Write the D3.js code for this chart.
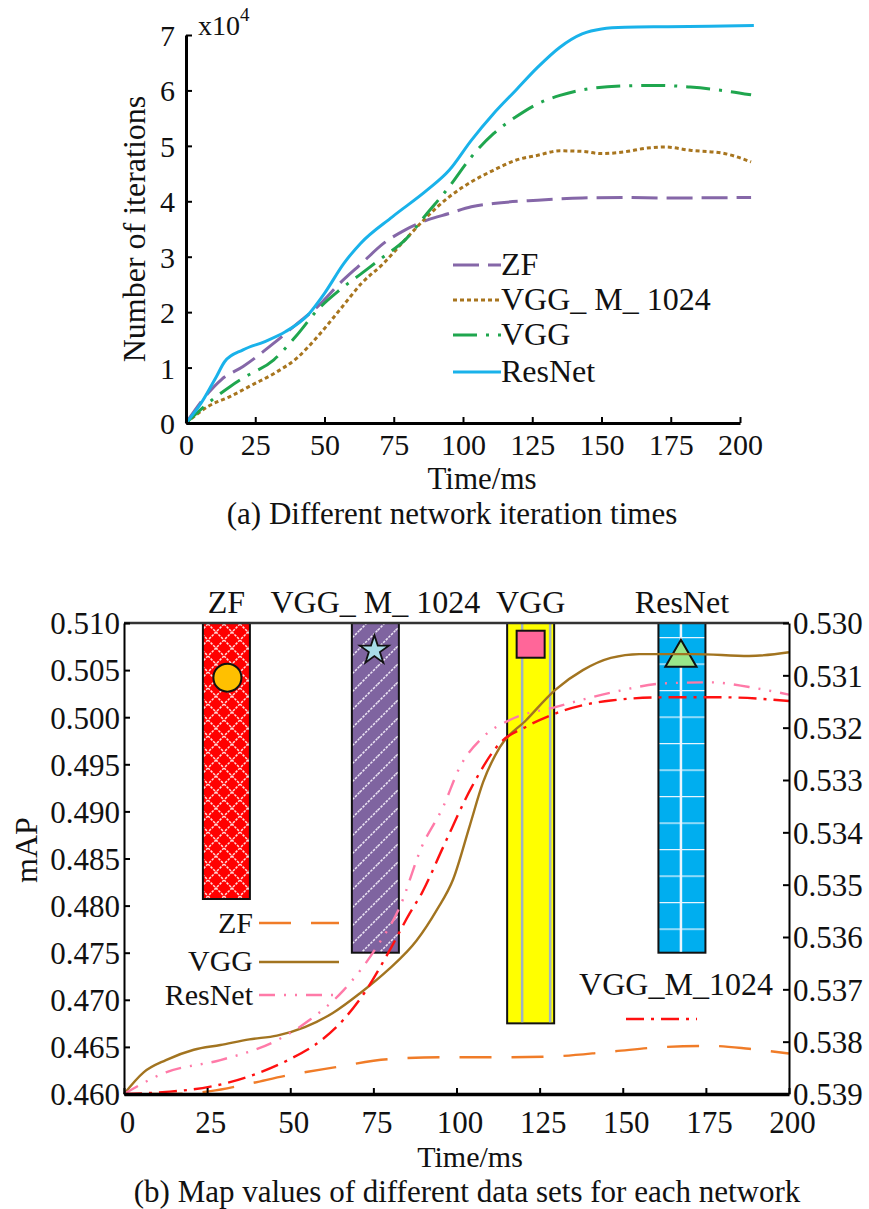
<!DOCTYPE html>
<html><head><meta charset="utf-8">
<script src="https://cdn.jsdelivr.net/npm/d3@7"></script>
<style>body{margin:0;background:#fff}svg{display:block}text{font-family:"Liberation Serif","Times New Roman",serif;fill:#111}</style>
</head><body><svg id="c" width="869" height="1209"></svg>
<script>
// ---------- Chart (a) data ----------
const aTicksX = [0,25,50,75,100,125,150,175,200];
const aTicksY = [0,1,2,3,4,5,6,7];
const aZF = [[0,0],[8,0.54],[12.7,0.78],[20.6,1.02],[31.7,1.44],[39.6,1.77],[47.5,2.1],[55.5,2.52],[63.4,2.88],[71.3,3.24],[79,3.48],[87,3.66],[95,3.78],[103,3.9],[111,3.96],[127,4.02],[143,4.06],[158,4.07],[174,4.06],[204,4.07]];
const aVGGM = [[0,0],[8,0.3],[16,0.48],[24,0.69],[32,0.9],[40,1.17],[47.5,1.56],[55.5,2.04],[63.4,2.52],[71.3,2.88],[79,3.3],[87,3.72],[95,4.08],[103,4.35],[111,4.56],[119,4.74],[127,4.83],[135,4.91],[143,4.9],[150,4.86],[158,4.89],[166.5,4.96],[173,4.98],[182,4.92],[193.5,4.87],[204,4.71]];
const aVGG = [[0,0],[8,0.36],[16,0.66],[20.6,0.81],[31.7,1.14],[39.6,1.56],[47.5,2.04],[55.5,2.4],[63.4,2.7],[71.3,3.0],[79,3.3],[87,3.78],[95,4.26],[103,4.8],[111,5.22],[119,5.52],[127,5.76],[135,5.91],[143,6.01],[158,6.08],[171,6.09],[182,6.06],[193.5,6.0],[204,5.92]];
const aResNet = [[0,0],[5.5,0.36],[11,0.84],[14,1.11],[20.6,1.32],[28.5,1.47],[36,1.65],[44,1.95],[50,2.34],[57,2.88],[63,3.24],[74.5,3.72],[87,4.2],[95,4.56],[103,5.1],[111,5.58],[119,6.0],[127,6.42],[135,6.78],[143,7.02],[150,7.11],[158.5,7.14],[174,7.15],[205,7.17]];
const aLegend = ["ZF","VGG_ M_ 1024","VGG","ResNet"];

// ---------- Chart (b) data ----------
const bTicksX = [0,25,50,75,100,125,150,175,200];
const bTicksL = [0.460,0.465,0.470,0.475,0.480,0.485,0.490,0.495,0.500,0.505,0.510];
const bTicksR = [0.530,0.531,0.532,0.533,0.534,0.535,0.536,0.537,0.538,0.539];
const barNames = ["ZF","VGG_ M_ 1024","VGG","ResNet"];
const barCenters = [30.8,75.6,122.3,167.8];   // Time/ms
const barBottoms = [0.4807,0.475,0.4675,0.475]; // mAP
const barTop = 0.510;
const markerValues = [0.5042,0.5071,0.5078,0.5063];
const bZF = [[8,0.460],[12.6,0.4600],[26,0.4603],[37.7,0.4611],[49.4,0.462],[62.8,0.4628],[79.5,0.4637],[96,0.4639],[113,0.4639],[129.7,0.464],[146.4,0.4645],[163,0.465],[176.6,0.4651],[188,0.4648],[200,0.4643]];
const bVGG = [[0,0.460],[5.9,0.4623],[12.6,0.4636],[21,0.4647],[29,0.4652],[37.7,0.4658],[46,0.4662],[54.4,0.4671],[62.8,0.4686],[71,0.4707],[79.5,0.4732],[88,0.4763],[94,0.4795],[99,0.4828],[104,0.4885],[108,0.4931],[113,0.4968],[121,0.4997],[129.7,0.5029],[138,0.505],[146.4,0.5063],[155,0.5067],[171.5,0.5067],[188,0.5065],[200,0.5069]];
const bResNet = [[0,0.460],[12.6,0.4623],[29,0.4636],[46,0.4657],[56,0.4679],[66,0.471],[76,0.4756],[83,0.4799],[89.5,0.4862],[96,0.4905],[101,0.4947],[108,0.4979],[116,0.4997],[130,0.5011],[146.4,0.5026],[163,0.5036],[176.6,0.5037],[188,0.5032],[200,0.5024]];
// VGG_M_1024 plotted against the right (reversed) axis
const bVGGM = [[0,0.539],[12.6,0.53896],[26,0.53886],[37.7,0.53866],[49.4,0.53835],[59.4,0.53797],[66,0.53758],[72.8,0.53702],[79.5,0.5363],[86,0.53554],[89.5,0.53517],[96,0.53428],[104.6,0.53313],[113,0.5323],[121,0.53198],[129.7,0.53173],[146.4,0.53148],[163,0.53142],[180,0.53142],[200,0.53149]];

const svg = d3.select("#c");

function txt(g, x, y, s, anchor, size, rot) {
  const t = g.append("text").attr("text-anchor", anchor || "middle").style("font-size", size+"px")
    .attr("transform", `translate(${x},${y})` + (rot ? ` rotate(${rot})` : ""));
  t.text(s);
  return t;
}
function styleAxis(a, w, fs) {
  a.select(".domain").attr("stroke","#000").attr("stroke-width",w);
  a.selectAll(".tick line").attr("stroke","#000").attr("stroke-width",2);
  a.selectAll(".tick text").style("font-size",fs+"px").style("font-family",'"Liberation Serif",serif').attr("fill","#111");
}

// ================= Chart (a) =================
{
  const x = d3.scaleLinear().domain([0,200]).range([186,740]);
  const y = d3.scaleLinear().domain([0,7]).range([423,35]);
  const g = svg.append("g");
  const line = d3.line().x(d=>x(d[0])).y(d=>y(d[1])).curve(d3.curveMonotoneX);
  const series = [
    {d:aZF, c:"#8567A8", dash:"26,9"},
    {d:aVGGM, c:"#A8751E", dash:"4,3"},
    {d:aVGG, c:"#1FA64E", dash:"24,9,3,9"},
    {d:aResNet, c:"#19B2EA", dash:null}
  ];
  series.forEach(s => {
    g.append("path").attr("d", line(s.d)).attr("fill","none").attr("stroke",s.c).attr("stroke-width",3)
      .attr("stroke-dasharray", s.dash);
  });
  const ax = g.append("g").attr("transform","translate(0,423)")
    .call(d3.axisBottom(x).tickValues(aTicksX).tickSizeInner(-6).tickSizeOuter(0));
  const ay = g.append("g").attr("transform","translate(186,0)")
    .call(d3.axisLeft(y).tickValues(aTicksY).tickFormat(d3.format("d")).tickSizeInner(-6).tickSizeOuter(0));
  styleAxis(ax, 3, 30); styleAxis(ay, 3, 30);
  ay.selectAll(".tick text").attr("x",-11).attr("dy","0.35em");
  ax.selectAll(".tick text").attr("y",32).attr("dy",0);
  // x10^4
  const e = g.append("text").attr("x",198).attr("y",35).style("font-size","28px");
  e.append("tspan").text("x10");
  e.append("tspan").attr("dy",-14).style("font-size","19px").text("4");
  txt(g, 145, 229, "Number of iterations", "middle", 32, -90);
  txt(g, 482, 489, "Time/ms", "middle", 31);
  txt(g, 452, 524, "(a) Different network iteration times", "middle", 31);
  // legend
  const ly = [265, 300, 335, 372];
  series.forEach((s,i) => {
    g.append("line").attr("x1",453).attr("x2",501).attr("y1",ly[i]).attr("y2",ly[i])
      .attr("stroke",s.c).attr("stroke-width",3).attr("stroke-dasharray", s.dash);
    txt(g, 501, ly[i]+10, aLegend[i], "start", 32);
  });
}

// ================= Chart (b) =================
{
  const x = d3.scaleLinear().domain([0,200]).range([124,789]);
  const yL = d3.scaleLinear().domain([0.460,0.510]).range([1094,623]);
  const yR = d3.scaleLinear().domain([0.539,0.530]).range([1094,623]);
  const g = svg.append("g");
  const defs = svg.append("defs");
  // patterns
  const p1 = defs.append("pattern").attr("id","hatchZF").attr("patternUnits","userSpaceOnUse").attr("width",16).attr("height",16);
  p1.append("rect").attr("width",16).attr("height",16).attr("fill","#FF0000");
  p1.append("path").attr("d","M0,0L16,16M16,0L0,16").attr("stroke","#FFDADA").attr("stroke-width",1.5).attr("stroke-dasharray","2.5,1.2");
  const p2 = defs.append("pattern").attr("id","hatchVM").attr("patternUnits","userSpaceOnUse").attr("width",18).attr("height",18);
  p2.append("rect").attr("width",18).attr("height",18).attr("fill","#7F64A0");
  p2.append("path").attr("d","M0,18L18,0M-4,4L4,-4M14,22L22,14").attr("stroke","#EDE6F5").attr("stroke-width",1.5).attr("stroke-dasharray","2.5,1.2");
  const p4 = defs.append("pattern").attr("id","gridRN").attr("patternUnits","userSpaceOnUse").attr("width",48).attr("height",26.5).attr("x",0).attr("y",637);
  p4.append("rect").attr("width",48).attr("height",26.5).attr("fill","#00AEEF");
  p4.append("line").attr("x1",0).attr("x2",48).attr("y1",0).attr("y2",0).attr("stroke","#E8F6FF").attr("stroke-width",2.5);

  const bw = 47;
  const fills = ["url(#hatchZF)","url(#hatchVM)","#FFFF00","url(#gridRN)"];
  barCenters.forEach((c,i) => {
    const bx = x(c) - bw/2;
    g.append("rect").attr("x",bx).attr("y",yL(barTop)).attr("width",bw).attr("height",yL(barBottoms[i])-yL(barTop))
      .attr("fill",fills[i]).attr("stroke","#111").attr("stroke-width",2);
    if (i===2) {
      [15, 43].forEach(o => g.append("line").attr("x1",bx+o).attr("x2",bx+o).attr("y1",yL(barTop)+1).attr("y2",yL(barBottoms[i])-1)
        .attr("stroke","#9FB2C6").attr("stroke-width",2.5));
    }
    if (i===3) {
      g.append("line").attr("x1",x(c)-1).attr("x2",x(c)-1).attr("y1",yL(barTop)+1).attr("y2",yL(barBottoms[i])-1)
        .attr("stroke","#E8F6FF").attr("stroke-width",2.5);
    }
    txt(g, x(c), 613, barNames[i], "middle", 32);
  });
  // markers
  const mx = barCenters.map(x);
  g.append("circle").attr("cx",mx[0]+1).attr("cy",yL(markerValues[0])).attr("r",14).attr("fill","#FFC000").attr("stroke","#111").attr("stroke-width",2);
  g.append("path").attr("d",d3.symbol().type(d3.symbolStar).size(260)()).attr("transform",`translate(${mx[1]-1},${yL(markerValues[1])})`)
    .attr("fill","#A8DCE8").attr("stroke","#111").attr("stroke-width",1.8);
  g.append("rect").attr("x",mx[2]-14).attr("y",yL(markerValues[2])-13).attr("width",28).attr("height",27).attr("fill","#FF6699").attr("stroke","#111").attr("stroke-width",2);
  g.append("path").attr("d",d3.symbol().type(d3.symbolTriangle).size(420)()).attr("transform",`translate(${mx[3]-1},${yL(markerValues[3])})`)
    .attr("fill","#99E68A").attr("stroke","#111").attr("stroke-width",2);

  // lines
  const lineL = d3.line().x(d=>x(d[0])).y(d=>yL(d[1])).curve(d3.curveMonotoneX);
  const lineR = d3.line().x(d=>x(d[0])).y(d=>yR(d[1])).curve(d3.curveMonotoneX);
  const ls = [
    {p:lineL(bZF), c:"#F07C28", dash:"32,20"},
    {p:lineL(bVGG), c:"#A27420", dash:null},
    {p:lineL(bResNet), c:"#FF7AA8", dash:"16,9,2,9,2,9"},
    {p:lineR(bVGGM), c:"#FF1010", dash:"18,7,3,7"}
  ];
  ls.forEach(s => g.append("path").attr("d",s.p).attr("fill","none").attr("stroke",s.c).attr("stroke-width",2.4).attr("stroke-dasharray",s.dash));

  // frame
  g.append("line").attr("x1",124).attr("x2",789).attr("y1",623).attr("y2",623).attr("stroke","#333").attr("stroke-width",2.5);
  const ax = g.append("g").attr("transform","translate(0,1094)")
    .call(d3.axisBottom(x).tickValues(bTicksX).tickSizeInner(-6).tickSizeOuter(0));
  const ayl = g.append("g").attr("transform","translate(124,0)")
    .call(d3.axisLeft(yL).tickValues(bTicksL).tickFormat(d3.format(".3f")).tickSizeInner(-6).tickSizeOuter(0));
  const ayr = g.append("g").attr("transform","translate(789,0)")
    .call(d3.axisRight(yR).tickValues(bTicksR).tickFormat(d3.format(".3f")).tickSizeInner(-6).tickSizeOuter(0));
  styleAxis(ax, 3.5, 31); styleAxis(ayl, 2, 31); styleAxis(ayr, 2, 31);
  ayl.selectAll(".tick text").attr("dy","0.35em").attr("x",-4);
  ayr.selectAll(".tick text").attr("dy","0.35em").attr("x",4);
  ax.selectAll(".tick text").attr("y",39).attr("dy",0).attr("x",3);

  // legend
  const lg = [[923,933,"ZF",0],[962,971,"VGG",1],[995,1005,"ResNet",2]];
  lg.forEach(l => {
    txt(g, 253, l[1], l[2], "end", 30);
    g.append("line").attr("x1",259).attr("x2",339).attr("y1",l[0]).attr("y2",l[0]).attr("stroke",ls[l[3]].c).attr("stroke-width",2.4).attr("stroke-dasharray",ls[l[3]].dash);
  });
  txt(g, 676, 995, "VGG_M_1024", "middle", 32);
  g.append("line").attr("x1",626).attr("x2",697).attr("y1",1019).attr("y2",1019).attr("stroke",ls[3].c).attr("stroke-width",2.4).attr("stroke-dasharray",ls[3].dash);

  txt(g, 37, 850, "mAP", "middle", 32, -90);
  txt(g, 470, 1167, "Time/ms", "middle", 30);
  txt(g, 467, 1202, "(b) Map values of different data sets for each network", "middle", 31);
}
</script></body></html>
